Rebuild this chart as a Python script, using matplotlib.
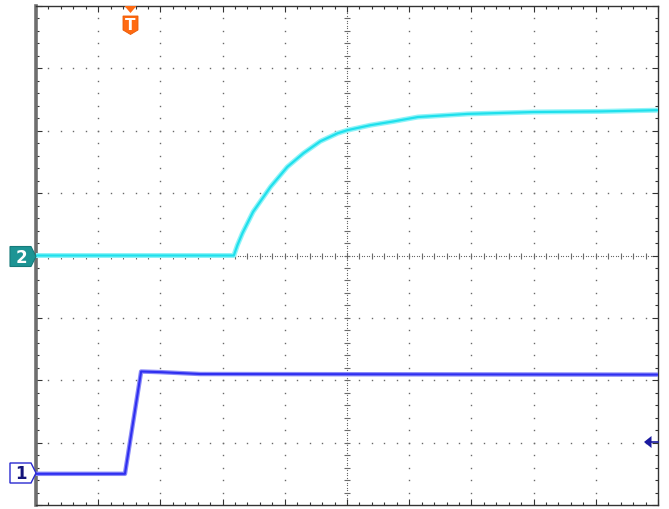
import numpy as np
import matplotlib
matplotlib.use("Agg")
import matplotlib.pyplot as plt
from matplotlib.patches import Polygon

# ---- data (in screen divisions: x 0..10, y -4..4) ----
ch2_x = [0.0, 3.18, 3.24, 3.32, 3.49, 3.77, 4.04, 4.30, 4.57, 4.85, 5.01, 5.38, 5.75, 6.14, 6.94, 8.00, 9.08, 10.0]
ch2_y = [0.0, 0.00, 0.17, 0.36, 0.70, 1.10, 1.42, 1.64, 1.83, 1.96, 2.01, 2.09, 2.15, 2.22, 2.27, 2.30, 2.31, 2.33]

ch1_x = [0.0, 1.43, 1.69, 2.00, 2.64, 10.0]
ch1_y = [-3.50, -3.50, -1.86, -1.87, -1.90, -1.91]

ch_labels = ["1", "2"]
trig_label = "T"

W, H = 669, 510
fig = plt.figure(figsize=(W / 100, H / 100), dpi=100)
fig.patch.set_facecolor("white")
L, T, R, B = 36, 7, 658, 506
ax = fig.add_axes([L / W, (H - B) / H, (R - L) / W, (B - T) / H])
ax.set_facecolor("white")
ax.set_xlim(0, 10)
ax.set_ylim(-4, 4)

# ---- graticule ----
gc = "#6a6a6a"
fine = np.arange(0, 10.001, 0.2)
fine_y = np.arange(-4, 4.001, 0.2)
for gx in range(1, 10):
    if gx == 5:
        continue
    ax.plot(np.full_like(fine_y, gx), fine_y, ls="", marker="s", ms=1.0, color=gc, mew=0, zorder=1)
for gy in range(-3, 4):
    if gy == 0:
        continue
    ax.plot(fine, np.full_like(fine, gy), ls="", marker="s", ms=1.0, color=gc, mew=0, zorder=1)
dense = np.arange(0, 10.001, 0.04)
dense_y = np.arange(-4, 4.001, 0.04)
ax.plot(dense, np.zeros_like(dense), ls="", marker="s", ms=0.8, color=gc, mew=0, zorder=1)
ax.plot(np.full_like(dense_y, 5), dense_y, ls="", marker="s", ms=0.8, color=gc, mew=0, zorder=1)
ax.plot(fine, np.zeros_like(fine), ls="", marker="|", ms=4.5, mew=0.8, color=gc, zorder=1)
ax.plot(np.full_like(fine_y, 5), fine_y, ls="", marker="_", ms=4.5, mew=0.8, color=gc, zorder=1)

ax.set_xticks(np.arange(0, 11, 1))
ax.set_yticks(np.arange(-4, 5, 1))
ax.set_xticks(fine, minor=True)
ax.set_yticks(fine_y, minor=True)
ax.tick_params(which="both", direction="in", top=True, right=True, labelbottom=False, labelleft=False,
               color="#333333")
ax.tick_params(which="major", length=4, width=0.8)
ax.tick_params(which="minor", length=2.5, width=0.8)
for s in ["top", "right", "bottom"]:
    ax.spines[s].set_color("#333333")
    ax.spines[s].set_linewidth(1.0)
ax.spines["left"].set_color("#6e6e6e")
ax.spines["left"].set_linewidth(2.6)

# ---- traces ----
ax.plot(ch2_x, ch2_y, color="#8ff3f8", lw=3.6, solid_joinstyle="round", zorder=3)
ax.plot(ch2_x, ch2_y, color="#1fe0ec", lw=1.6, solid_joinstyle="round", zorder=4)
ax.plot(ch1_x, ch1_y, color="#8a8af8", lw=3.2, solid_joinstyle="round", zorder=3)
ax.plot(ch1_x, ch1_y, color="#2f2ff0", lw=1.5, solid_joinstyle="round", zorder=4)

# ---- overlay in pixel coordinates for marker badges ----
ov = fig.add_axes([0, 0, 1, 1])
ov.set_xlim(0, W)
ov.set_ylim(H, 0)
ov.axis("off")
ov.patch.set_alpha(0)

y2 = 257.5
ov.add_patch(Polygon([(10, y2 - 10), (31, y2 - 10), (36, y2), (31, y2 + 10), (10, y2 + 10)],
                     closed=True, facecolor="#1d9494", edgecolor="#167a7a", lw=0.8))
ov.text(21, y2 + 0.5, ch_labels[1], color="white", fontsize=12, fontweight="bold", ha="center", va="center")

y1 = 474
ov.add_patch(Polygon([(10, y1 - 10), (31, y1 - 10), (36, y1), (31, y1 + 10), (10, y1 + 10)],
                     closed=True, facecolor="white", edgecolor="#2a2ad0", lw=1.0))
ov.text(21, y1 + 0.5, ch_labels[0], color="#14147a", fontsize=12, fontweight="bold", ha="center", va="center")

tx = 130.5
ov.add_patch(Polygon([(tx - 6, 7), (tx + 6, 7), (tx, 14)], closed=True, facecolor="#ff6a12", edgecolor="none"))
ov.add_patch(Polygon([(tx - 7.5, 17), (tx + 7.5, 17), (tx + 7.5, 31), (tx, 35.5), (tx - 7.5, 31)],
                     closed=True, facecolor="#ff6a12", edgecolor="#e85a05", lw=0.6))
ov.text(tx, 25.5, trig_label, color="white", fontsize=11, fontweight="bold", ha="center", va="center")

ya = 443
ov.add_patch(Polygon([(644, ya), (651.5, ya - 6), (651.5, ya + 6)], closed=True,
                     facecolor="#1a1aa0", edgecolor="none"))
ov.plot([651, 658], [ya, ya], color="#1a1aa0", lw=1.2)

fig.savefig("out.png", dpi=100, facecolor="white")
